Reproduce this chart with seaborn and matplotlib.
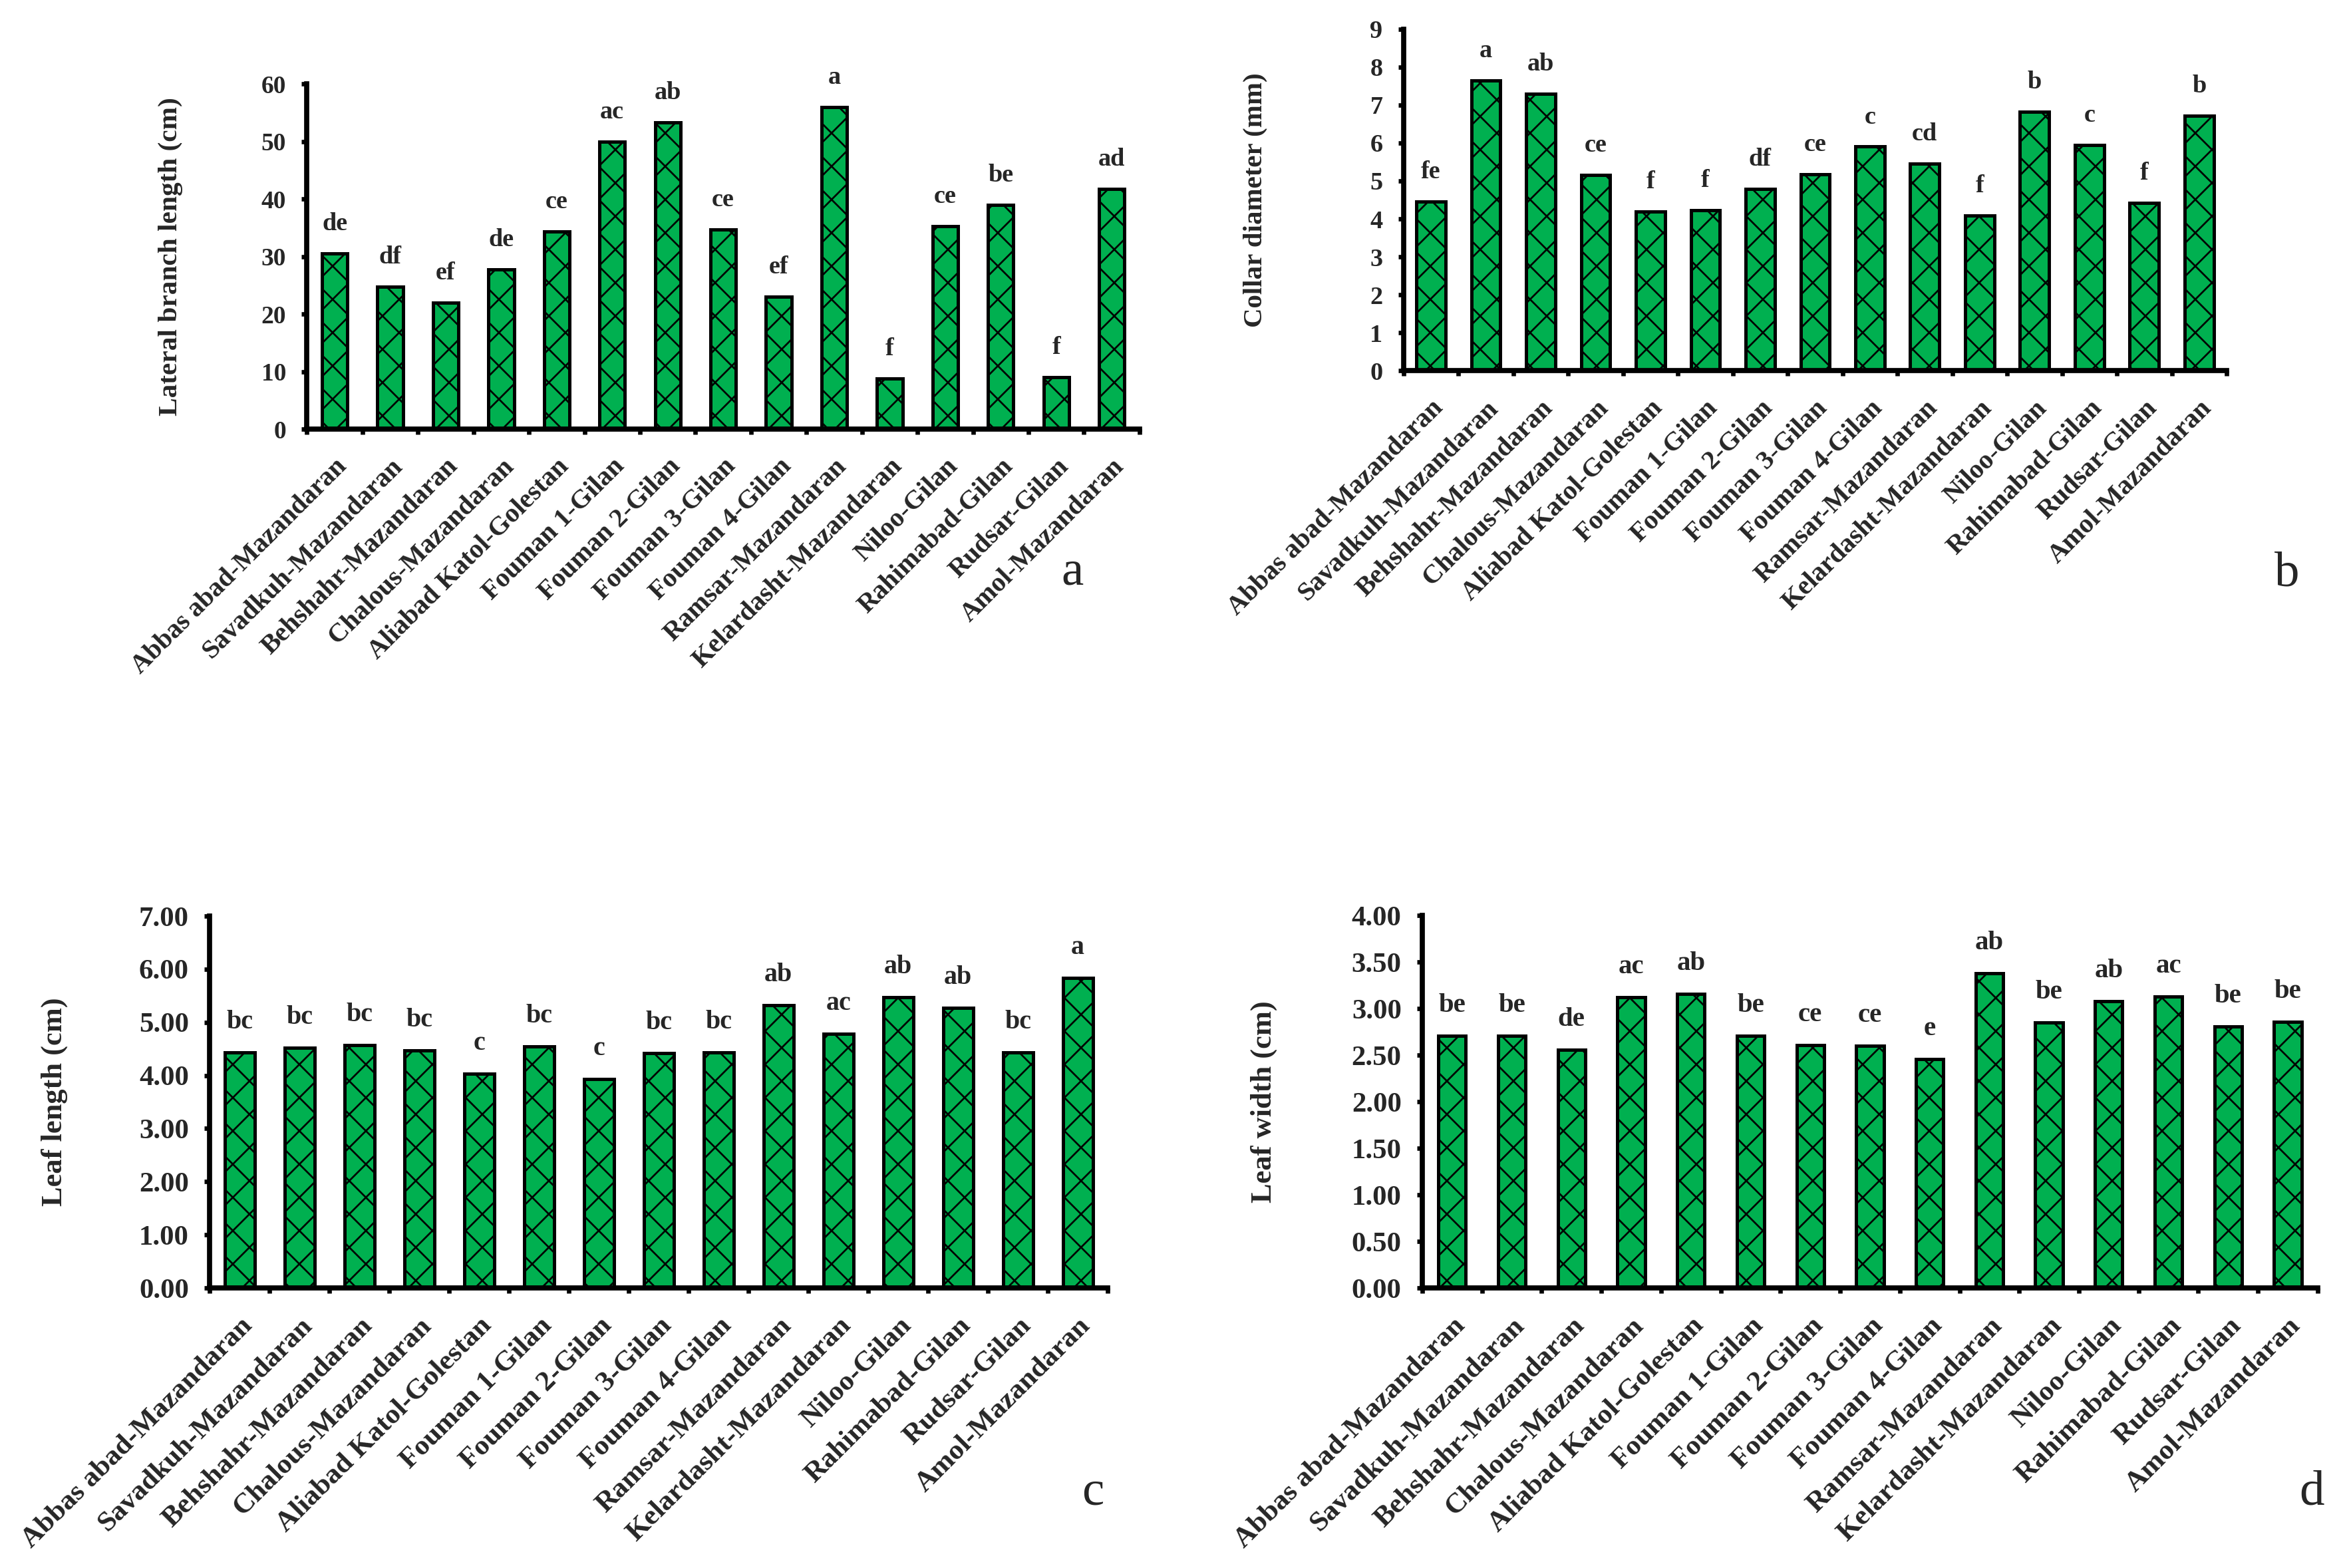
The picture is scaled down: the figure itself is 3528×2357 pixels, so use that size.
import matplotlib
matplotlib.use("Agg")
import matplotlib.pyplot as plt
import numpy as np
import pandas as pd
import seaborn as sns
from matplotlib.ticker import FormatStrFormatter, FixedLocator

sns.set_theme(style="white")
plt.rcParams["font.family"] = ["Liberation Serif", "DejaVu Serif"]
plt.rcParams["hatch.linewidth"] = 0.65
plt.rcParams["hatch.color"] = "black"

# =========================
# Data
# =========================
sites = [
    "Abbas abad-Mazandaran", "Savadkuh-Mazandaran", "Behshahr-Mazandaran",
    "Chalous-Mazandaran", "Aliabad Katol-Golestan", "Fouman 1-Gilan",
    "Fouman 2-Gilan", "Fouman 3-Gilan", "Fouman 4-Gilan", "Ramsar-Mazandaran",
    "Kelardasht-Mazandaran", "Niloo-Gilan", "Rahimabad-Gilan", "Rudsar-Gilan",
    "Amol-Mazandaran",
]

branch_length = [30.5, 24.7, 22.0, 27.7, 34.3, 50.0, 53.3, 34.7, 23.0, 56.0,
                 8.8, 35.3, 39.0, 9.0, 41.7]
branch_letters = ["de", "df", "ef", "de", "ce", "ac", "ab", "ce", "ef", "a",
                  "f", "ce", "be", "f", "ad"]

collar_diameter = [4.45, 7.65, 7.30, 5.15, 4.20, 4.22, 4.78, 5.18, 5.90, 5.45,
                   4.08, 6.82, 5.95, 4.42, 6.72]
collar_letters = ["fe", "a", "ab", "ce", "f", "f", "df", "ce", "c", "cd",
                  "f", "b", "c", "f", "b"]

leaf_length = [4.43, 4.52, 4.57, 4.47, 4.03, 4.55, 3.93, 4.42, 4.43, 5.32,
               4.78, 5.47, 5.27, 4.43, 5.83]
length_letters = ["bc", "bc", "bc", "bc", "c", "bc", "c", "bc", "bc", "ab",
                  "ac", "ab", "ab", "bc", "a"]

leaf_width = [2.71, 2.71, 2.56, 3.12, 3.16, 2.71, 2.61, 2.60, 2.46, 3.38,
              2.85, 3.08, 3.13, 2.81, 2.86]
width_letters = ["be", "be", "de", "ac", "ab", "be", "ce", "ce", "e", "ab",
                 "be", "ab", "ac", "be", "be"]

green = "#00B050"

# =========================
# Figure
# =========================
fig = plt.figure(figsize=(11.76, 7.857), dpi=300)

panels = [
    dict(vals=branch_length, lets=branch_letters, ylabel="Lateral branch length (cm)",
         ymax=60, step=10, fmt=None, rect=[0.1308, 0.7263, 0.3547, 0.2202],
         width=0.46, tick=9.0, lab=9.9, bar=9.2, xt=9.7, ylx=-0.149,
         tag="a", tagpos=(0.457, 0.635)),
    dict(vals=collar_diameter, lets=collar_letters, ylabel="Collar diameter (mm)",
         ymax=9, step=1, fmt=None, rect=[0.598, 0.7635, 0.3507, 0.218],
         width=0.53, tick=9.2, lab=9.8, bar=9.2, xt=9.7, ylx=-0.165,
         tag="b", tagpos=(0.9745, 0.634)),
    dict(vals=leaf_length, lets=length_letters, ylabel="Leaf length (cm)",
         ymax=7, step=1, fmt="%.2f", rect=[0.0893, 0.1786, 0.3827, 0.2372],
         width=0.50, tick=10.3, lab=10.7, bar=9.6, xt=10.4, ylx=-0.158,
         tag="c", tagpos=(0.4657, 0.0483)),
    dict(vals=leaf_width, lets=width_letters, ylabel="Leaf width (cm)",
         ymax=4, step=0.5, fmt="%.2f", rect=[0.606, 0.1786, 0.3815, 0.2376],
         width=0.46, tick=10.3, lab=10.7, bar=9.8, xt=10.4, ylx=-0.162,
         tag="d", tagpos=(0.985, 0.0483)),
]

for p in panels:
    ax = fig.add_axes(p["rect"])
    df = pd.DataFrame({"site": sites, "value": p["vals"]})
    sns.barplot(data=df, x="site", y="value", color=green, saturation=1,
                width=p["width"], edgecolor="black", linewidth=1.2, ax=ax)
    for patch in ax.patches:
        patch.set_hatch("xx")

    # significance letters above bars
    for i, (v, t) in enumerate(zip(p["vals"], p["lets"])):
        ax.annotate(t, (i, v), xytext=(0, 6.5), textcoords="offset points",
                    ha="center", va="bottom", fontsize=p["bar"],
                    fontweight="bold")

    ax.set_xlim(-0.5, len(sites) - 0.5)
    ax.set_ylim(0, p["ymax"])
    ax.set_yticks(np.arange(0, p["ymax"] + p["step"] / 2, p["step"]))
    if p["fmt"]:
        ax.yaxis.set_major_formatter(FormatStrFormatter(p["fmt"]))

    ax.set_xticks(range(len(sites)))
    ax.set_xticklabels(sites, rotation=45, ha="right", rotation_mode="anchor",
                       fontsize=p["xt"], fontweight="bold")
    ax.xaxis.set_minor_locator(FixedLocator(np.arange(-0.5, len(sites), 1.0)))
    ax.tick_params(axis="x", which="major", length=0, pad=9)
    ax.tick_params(axis="x", which="minor", bottom=True, direction="out",
                   length=2.0, width=1.6, color="black")
    ax.tick_params(axis="y", which="major", left=True, direction="out",
                   length=2.0, width=1.6, color="black", pad=5.5,
                   labelsize=p["tick"])
    for lbl in ax.get_yticklabels():
        lbl.set_fontweight("bold")

    ax.set_xlabel("")
    ax.set_ylabel(p["ylabel"], fontsize=p["lab"], fontweight="bold")
    ax.yaxis.set_label_coords(p["ylx"], 0.5)

    sns.despine(ax=ax)
    for side in ["left", "bottom"]:
        ax.spines[side].set_linewidth(1.85)
        ax.spines[side].set_color("black")
    ax.set_facecolor("white")

    fig.text(p["tagpos"][0], p["tagpos"][1], p["tag"], ha="center",
             va="center", fontsize=18)

fig.savefig("out.png", dpi=300, facecolor="white")
